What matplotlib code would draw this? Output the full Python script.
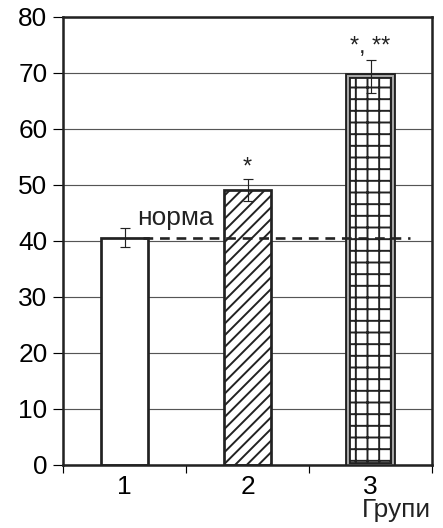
import numpy as np
import matplotlib
matplotlib.use("Agg")
import matplotlib.pyplot as plt

plt.rcParams['font.family'] = ['Liberation Sans', 'DejaVu Sans']
plt.rcParams['hatch.linewidth'] = 1.0

# Data
groups = ['1', '2', '3']
values = [40.6, 49.1, 69.4]
errors = [1.7, 1.9, 3.0]
marks = ['', '*', '*, **']
hatches = ['', '////', '++']
norm = 40.6

DPI = 140
fig = plt.figure(figsize=(443 / DPI, 528 / DPI), dpi=DPI)
ax = fig.add_axes([63 / 443, 63 / 528, 369 / 443, 448 / 528])

x = np.arange(1, len(groups) + 1)
ax.set_xlim(0.5, 3.5)
ax.set_ylim(0, 80)

ax.yaxis.grid(True, color='#555555', linewidth=0.6)
ax.set_axisbelow(True)

for xi, v, e, h in zip(x, values, errors, hatches):
    if h == '++':
        # double outline: dark outer/inner lines with gray in between
        ax.bar(xi, v, width=0.37, color='white', edgecolor='#222222',
               linewidth=3.0, hatch=h, zorder=2)
        ax.bar(xi, v, width=0.37, fill=False, edgecolor='#aaaaaa',
               linewidth=1.0, zorder=2)
    else:
        ax.bar(xi, v, width=0.39, color='white', edgecolor='#222222',
               linewidth=1.4, hatch=h, zorder=2)
    ax.errorbar(xi, v, yerr=e, fmt='none', ecolor='#222222',
                elinewidth=0.6, capsize=2.7, capthick=0.6, zorder=4)

ax.plot([1.15, 3.32], [norm, norm], color='#222222', linestyle=(0, (3.7, 2.6)),
        linewidth=1.35, zorder=3)
ax.text(1.1, 42.9, 'норма', fontsize=13.5, ha='left', va='baseline',
        color='#222222')

for xi, v, e, m in zip(x, values, errors, marks):
    if m:
        ax.text(xi, v + e + 2.3, m, fontsize=12, ha='center', va='center',
                color='#222222')

ax.set_xticks(x)
ax.set_xticklabels(groups)
ax.set_xticks([0.5, 1.5, 2.5, 3.5], minor=True)
ax.tick_params(axis='x', which='major', length=0, labelsize=13.5, pad=5)
ax.tick_params(axis='x', which='minor', length=4, width=0.6, direction='out')
ax.set_yticks(np.arange(0, 81, 10))
ax.tick_params(axis='y', labelsize=13.5, length=5, width=0.6, direction='out',
               pad=3)

for s in ax.spines.values():
    s.set_linewidth(1.3)
    s.set_color('#222222')

fig.text(396 / 443, 1 - 510 / 528, 'Групи', fontsize=13.5, ha='center',
         va='center', color='#222222')

fig.savefig('out.png', dpi=DPI)
